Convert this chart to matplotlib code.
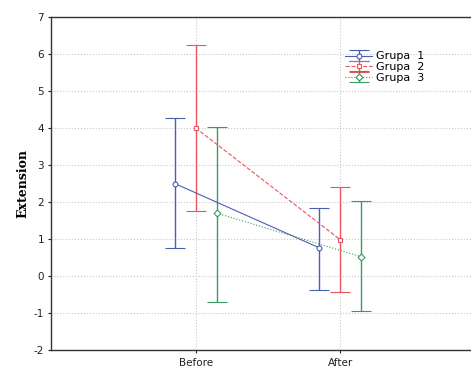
import matplotlib.pyplot as plt
import numpy as np

# interaction plot, means with 95% CI
times = ["Before", "After"]
groups = ["Grupa  1", "Grupa  2", "Grupa  3"]
means = [[2.5, 0.76], [4.0, 0.98], [1.7, 0.52]]
lower = [[0.75, -0.37], [1.77, -0.42], [-0.7, -0.94]]
upper = [[4.28, 1.85], [6.25, 2.4], [4.03, 2.03]]

colors = ["#4a5fb0", "#e8555f", "#3c9a5c"]
styles = ["-", "--", ":"]
markers = ["o", "s", "D"]
offsets = [-0.145, 0.0, 0.145]


def main():
    plt.rcParams["axes.unicode_minus"] = False
    fig = plt.figure(figsize=(4.71, 3.67), dpi=100)
    ax = fig.add_axes([51 / 471, 17 / 367, 434 / 471, 333 / 367])
    x = np.arange(1, len(times) + 1)

    for i, g in enumerate(groups):
        m = np.array(means[i])
        err = [m - np.array(lower[i]), np.array(upper[i]) - m]
        ax.errorbar(x + offsets[i], m, yerr=err, color=colors[i],
                    linestyle=styles[i], linewidth=0.8, elinewidth=1.0,
                    capsize=7, capthick=1.0, marker=markers[i],
                    markersize=3.5, markerfacecolor="white",
                    markeredgewidth=0.8, label=g)

    ax.set_xlim(0, 3)
    ax.set_ylim(-2, 7)
    ax.set_yticks(range(-2, 8))
    ax.set_xticks(x)
    ax.set_xticklabels(times)
    ax.grid(True, color="#c8c8c8", linestyle=":", linewidth=0.8)
    ax.tick_params(labelsize=7.5, colors="#222222", length=2, pad=3)
    ax.tick_params(axis="x", pad=4)
    ax.spines["right"].set_visible(False)
    for s in ["left", "bottom", "top"]:
        ax.spines[s].set_color("#333333")
        ax.spines[s].set_linewidth(1.0)
    ax.set_ylabel("Extension", family="DejaVu Serif", fontweight="bold",
                  fontsize=9, labelpad=3)
    ax.legend(loc="upper left", bbox_to_anchor=(0.66, 0.92), frameon=False,
              fontsize=8, handlelength=2.4, labelspacing=0.05,
              borderpad=0.2, handletextpad=0.4)

    fig.savefig("out.png", dpi=100)


if __name__ == "__main__":
    main()
